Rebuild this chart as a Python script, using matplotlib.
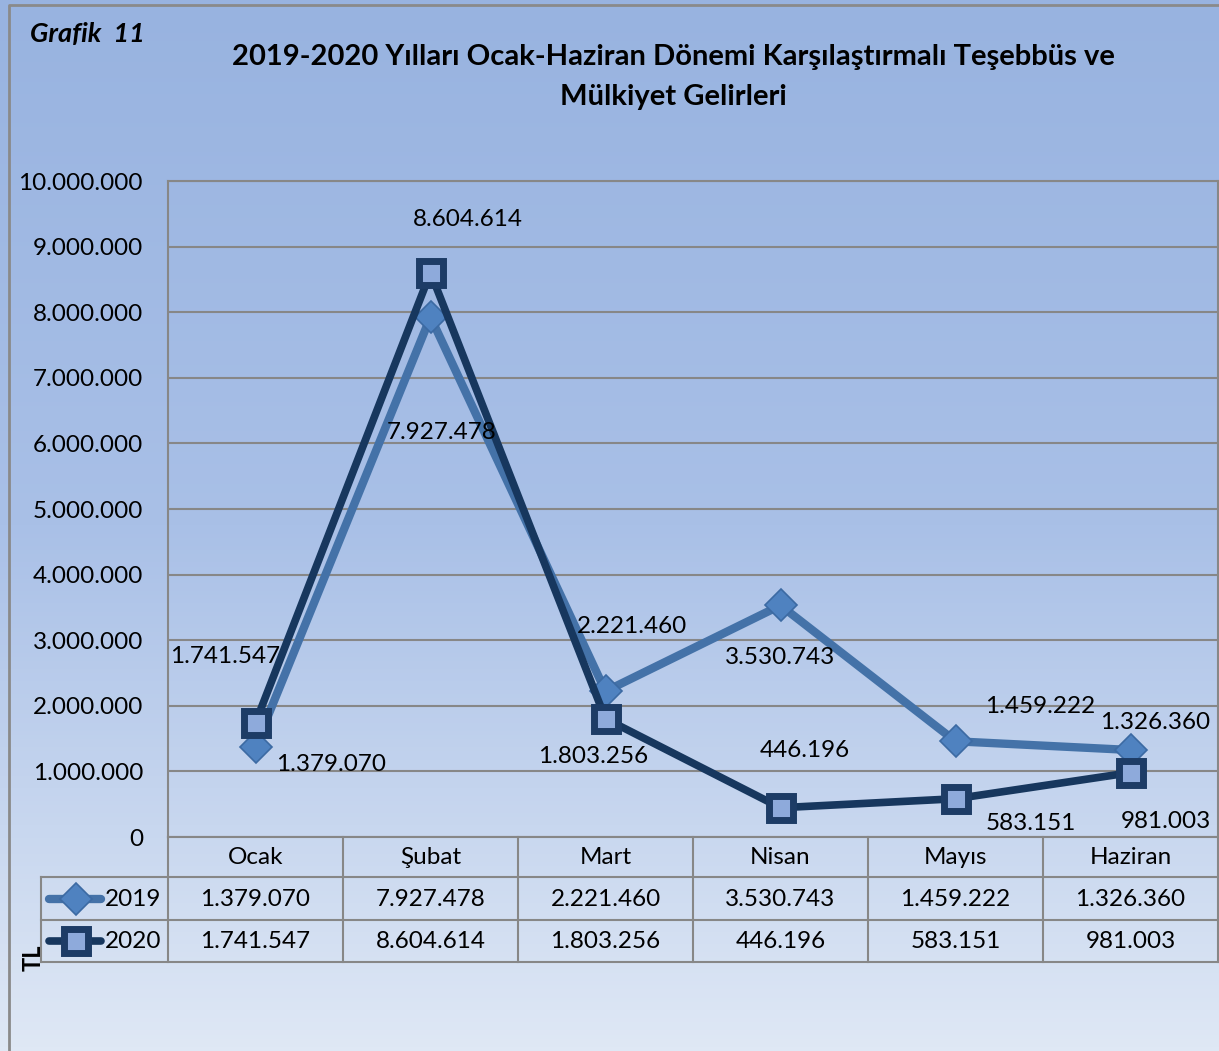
import numpy as np
import matplotlib
matplotlib.use("Agg")
import matplotlib.pyplot as plt
from matplotlib.colors import LinearSegmentedColormap

# ---------------- data ----------------
months = ["Ocak", "Şubat", "Mart", "Nisan", "Mayıs", "Haziran"]
series_names = ["2019", "2020"]
values_2019 = [1379070, 7927478, 2221460, 3530743, 1459222, 1326360]
values_2020 = [1741547, 8604614, 1803256, 446196, 583151, 981003]
y_ticks = [0, 1000000, 2000000, 3000000, 4000000, 5000000,
           6000000, 7000000, 8000000, 9000000, 10000000]
title = "2019-2020 Yılları Ocak-Haziran Dönemi Karşılaştırmalı Teşebbüs ve\nMülkiyet Gelirleri"
chart_tag = "Grafik  11"
unit_label = "TL"

# label offsets (pixels) for data labels
off_2019 = [(76, -18), (11, -116), (26, 65), (0, -52), (85, 35), (25, 27)]
off_2020 = [(-30, 66), (37, 53), (-12, -38), (24, 57), (75, -25), (35, -49)]


def fmt(v):
    return f"{v:,}".replace(",", ".")


FONT = "Lato"
FS = 17.5
plt.rcParams["font.family"] = [FONT, "DejaVu Sans"]

W, H = 1219, 1051
fig = plt.figure(figsize=(W / 100, H / 100), dpi=100)

# background gradient
bg = fig.add_axes([0, 0, 1, 1], zorder=0)
cmap = LinearSegmentedColormap.from_list("bg", ["#98b3e0", "#a9c0e7", "#dfe8f5"])
grad = np.linspace(0, 1, 256).reshape(-1, 1)
bg.imshow(grad, aspect="auto", cmap=cmap, extent=[0, W, H, 0])
bg.set_xlim(0, W)
bg.set_ylim(H, 0)
bg.axis("off")

# main axes
L, R, T, B = 168, 1218, 181, 837
ax = fig.add_axes([L / W, 1 - B / H, (R - L) / W, (B - T) / H], zorder=2)
ax.set_facecolor("none")
x = np.arange(len(months))

c19_line = "#4472a8"
c20_line = "#17375e"

ax.plot(x, values_2019, color=c19_line, lw=6.0, marker="D", ms=16,
        mfc="#4f82c0", mec="#3c6aa3", mew=1.2, zorder=3, solid_capstyle="round")
ax.plot(x, values_2020, color=c20_line, lw=5.5, marker="s", ms=17,
        mfc="#8eaadb", mec="#1d3c66", mew=5.0, zorder=4, solid_capstyle="round")

for xi, v, (dx, dy) in zip(x, values_2019, off_2019):
    ax.annotate(fmt(v), (xi, v), xytext=(dx, dy), textcoords="offset pixels",
                ha="center", va="center", fontsize=FS, color="black", zorder=6)
for xi, v, (dx, dy) in zip(x, values_2020, off_2020):
    ax.annotate(fmt(v), (xi, v), xytext=(dx, dy), textcoords="offset pixels",
                ha="center", va="center", fontsize=FS, color="black", zorder=6)

ax.set_xlim(-0.5, len(months) - 0.5)
ax.set_ylim(0, 10000000)
ax.set_yticks(y_ticks)
ax.set_yticklabels([fmt(t) for t in y_ticks], fontsize=FS)
ax.set_xticks([])
ax.tick_params(axis="y", length=0, pad=18)
ax.grid(axis="y", color="#878787", lw=1.5, zorder=1)
ax.set_axisbelow(True)
for s in ["left", "top", "right"]:
    ax.spines[s].set_color("#878787")
    ax.spines[s].set_linewidth(1.5)
ax.spines["bottom"].set_visible(False)

# overlay for table and texts
ov = fig.add_axes([0, 0, 1, 1], zorder=3)
ov.set_xlim(0, W)
ov.set_ylim(H, 0)
ov.axis("off")
ov.patch.set_alpha(0)

gc = "#878787"
glw = 1.5
cw = (R - L) / len(months)
rows = [837, 877, 920, 962]
ov.plot([L, R], [rows[0], rows[0]], color=gc, lw=glw)
for yy in rows[1:]:
    ov.plot([41, R], [yy, yy], color=gc, lw=glw)
for i in range(len(months) + 1):
    ov.plot([L + i * cw, L + i * cw], [rows[0], rows[3]], color=gc, lw=glw)
ov.plot([41, 41], [rows[1], rows[3]], color=gc, lw=glw)

for i, m in enumerate(months):
    ov.text(L + (i + 0.5) * cw, (rows[0] + rows[1]) / 2 + 1, m, ha="center", va="center", fontsize=FS)
for i, v in enumerate(values_2019):
    ov.text(L + (i + 0.5) * cw, (rows[1] + rows[2]) / 2 + 1, fmt(v), ha="center", va="center", fontsize=FS)
for i, v in enumerate(values_2020):
    ov.text(L + (i + 0.5) * cw, (rows[2] + rows[3]) / 2 + 1, fmt(v), ha="center", va="center", fontsize=FS)

# legend keys in table
ry1 = (rows[1] + rows[2]) / 2
ry2 = (rows[2] + rows[3]) / 2
ov.plot([49, 101], [ry1, ry1], color=c19_line, lw=6.0, solid_capstyle="round")
ov.plot([76], [ry1], marker="D", ms=16, mfc="#4f82c0", mec="#3c6aa3", mew=1.2, ls="none")
ov.plot([49, 101], [ry2, ry2], color=c20_line, lw=5.5, solid_capstyle="round")
ov.plot([76], [ry2], marker="s", ms=17, mfc="#8eaadb", mec="#1d3c66", mew=5.0, ls="none")
ov.text(161, ry1 + 1, series_names[0], ha="right", va="center", fontsize=FS)
ov.text(161, ry2 + 1, series_names[1], ha="right", va="center", fontsize=FS)

# outer border
ov.plot([9, 9, W + 5], [H + 5, 5, 5], color="#8a8a8a", lw=2)

# texts
ov.text(30, 34, chart_tag, ha="left", va="center", fontsize=19.5, fontweight="bold",
        fontstyle="italic")
ov.text(673, 77, title, ha="center", va="center", fontsize=21, fontweight="bold",
        linespacing=1.65)
ov.text(33, 958, unit_label, ha="center", va="center", fontsize=17, fontweight="bold",
        rotation=90)

fig.savefig("out.png", dpi=100)
